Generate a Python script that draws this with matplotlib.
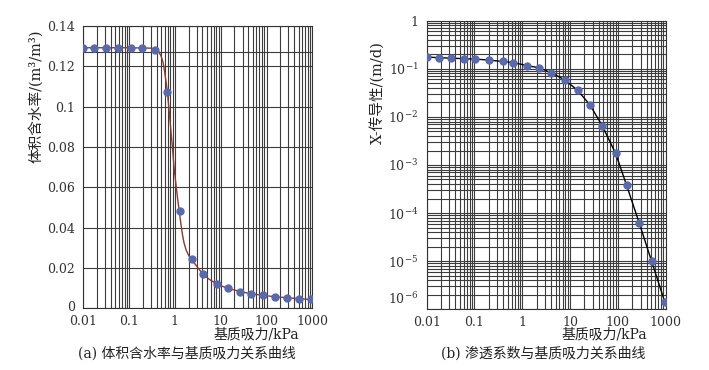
import matplotlib
matplotlib.use('Agg')
import matplotlib.pyplot as plt
import matplotlib.transforms as mtransforms

plt.rcParams['font.family'] = ['DejaVu Serif', 'Noto Sans CJK SC', 'DejaVu Sans']
plt.rcParams['mathtext.fontset'] = 'dejavuserif'
plt.rcParams['font.size'] = 9.5

# (a) volumetric water content vs matric suction
suction_a = [0.01, 0.0174, 0.031, 0.058, 0.108, 0.188, 0.373, 0.66, 1.29, 2.33, 4.17,
             8.1, 14.2, 26.4, 45, 85, 156, 280, 510, 920]
theta_a = [0.1293, 0.1293, 0.1293, 0.1293, 0.1293, 0.1293, 0.128, 0.1075, 0.0483, 0.0245,
           0.017, 0.0122, 0.0103, 0.0083, 0.0073, 0.0065, 0.0058, 0.0053, 0.0047, 0.0045]
# fitted curve
curve_x_a = [0.01, 0.1, 0.3, 0.4, 0.45, 0.5, 0.55, 0.6, 0.68, 0.78, 0.88, 0.97, 1.06,
             1.15, 1.25, 1.34, 1.45, 1.58, 1.75, 2.0, 2.3, 2.7, 3.2, 4.0, 5.5, 7.5, 10,
             15, 30, 50, 100, 200, 500, 1000]
curve_y_a = [0.1292, 0.1292, 0.1290, 0.1283, 0.1270, 0.1250, 0.1220, 0.117, 0.108, 0.0934,
             0.080, 0.0686, 0.061, 0.054, 0.048, 0.0425, 0.037, 0.0325, 0.0290, 0.0262,
             0.0242, 0.0222, 0.0200, 0.0172, 0.0145, 0.0126, 0.0112, 0.0098, 0.0080,
             0.0071, 0.0062, 0.0055, 0.0048, 0.0043]
sat_line = 0.127

# (b) hydraulic conductivity vs matric suction
suction_b = [0.01, 0.0184, 0.0318, 0.0612, 0.101, 0.198, 0.389, 0.65, 1.24, 2.24, 3.98,
             7.8, 14.4, 26, 47, 90, 153, 281, 509, 966]
k_b = [0.176, 0.170, 0.167, 0.162, 0.160, 0.152, 0.142, 0.135, 0.117, 0.105, 0.0836,
       0.0588, 0.0357, 0.0179, 0.0066, 0.00174, 3.76e-4, 6.2e-5, 1.0e-5, 1.4e-6]

xticks = [0.01, 0.1, 1, 10, 100, 1000]
xticklabels = ['0.01', '0.1', '1', '10', '100', '1000']
yticks_a = [0, 0.02, 0.04, 0.06, 0.08, 0.1, 0.12, 0.14]
yticklabels_a = ['0', '0.02', '0.04', '0.06', '0.08', '0.1', '0.12', '0.14']
yticks_b = [1, 1e-1, 1e-2, 1e-3, 1e-4, 1e-5, 1e-6]
yticklabels_b = ['1', '$10^{-1}$', '$10^{-2}$', '$10^{-3}$', '$10^{-4}$', '$10^{-5}$', '$10^{-6}$']

dot_color = '#5a69a8'
grid_color = '#3c3c3c'
text_color = '#222222'

fig = plt.figure(figsize=(7.09, 3.70), dpi=100)
ax1 = fig.add_axes([0.1175, 0.1668, 0.323, 0.763])
ax2 = fig.add_axes([0.6018, 0.164, 0.337, 0.78])

# left panel
ax1.set_xscale('log')
ax1.set_xlim(0.01, 1000)
ax1.set_ylim(0, 0.14)
ax1.grid(True, which='both', axis='x', color=grid_color, lw=0.8)
ax1.grid(True, which='major', axis='y', color=grid_color, lw=0.8)
ax1.axhline(sat_line, color=grid_color, lw=0.8)
ax1.plot(curve_x_a, curve_y_a, color='#8b3a2e', lw=1.0, zorder=3)
ax1.plot(suction_a, theta_a, 'o', color=dot_color, ms=5, zorder=4)
ax1.set_xticks(xticks)
ax1.set_xticklabels(xticklabels)
ax1.set_yticks(yticks_a)
ax1.set_yticklabels(yticklabels_a)
ax1.set_axisbelow(True)

# right panel
ax2.set_xscale('log')
ax2.set_yscale('log')
ax2.set_xlim(0.01, 1000)
ax2.set_ylim(1e-6, 1)
ax2.grid(True, which='both', color=grid_color, lw=0.8)
ax2.plot(suction_b, k_b, color='black', lw=1.0, zorder=3)
ax2.plot(suction_b, k_b, 'o', color=dot_color, ms=5, zorder=4)
ax2.set_xticks(xticks)
ax2.set_xticklabels(xticklabels)
ax2.set_yticks(yticks_b)
ax2.set_yticklabels(yticklabels_b)
ax2.set_axisbelow(True)

for ax in (ax1, ax2):
    ax.tick_params(which='both', length=0, labelsize=9, colors='#333333')
    ax.tick_params(axis='y', pad=6)
    ax.tick_params(axis='x', pad=5)
    ax.tick_params(which='minor', labelbottom=False, labelleft=False)
    for s in ax.spines.values():
        s.set_color('#333333')
        s.set_linewidth(0.8)

# raise the bottom labels a bit so they clear the x tick labels
lab = ax2.yaxis.get_major_ticks()[-1].label1
lab.set_transform(lab.get_transform() + mtransforms.ScaledTranslation(0, 12 / 100, fig.dpi_scale_trans))
lab0 = ax1.yaxis.get_major_ticks()[0].label1
lab0.set_transform(lab0.get_transform() + mtransforms.ScaledTranslation(0, 2 / 100, fig.dpi_scale_trans))

fig.text(0.05, 0.74, '体积含水率/(m³/m³)', rotation=90, ha='center', va='center',
         fontsize=10.5, color=text_color)
fig.text(0.532, 0.75, 'X-传导性/(m/d)', rotation=90, ha='center', va='center',
         fontsize=10.5, color=text_color)
fig.text(0.361, 0.097, '基质吸力/kPa', ha='center', va='center', fontsize=10, color=text_color)
fig.text(0.853, 0.095, '基质吸力/kPa', ha='center', va='center', fontsize=10, color=text_color)
fig.text(0.264, 0.045, '(a) 体积含水率与基质吸力关系曲线', ha='center', va='center',
         fontsize=10, color=text_color)
fig.text(0.766, 0.045, '(b) 渗透系数与基质吸力关系曲线', ha='center', va='center',
         fontsize=10, color=text_color)

fig.savefig('out.png', dpi=100)
